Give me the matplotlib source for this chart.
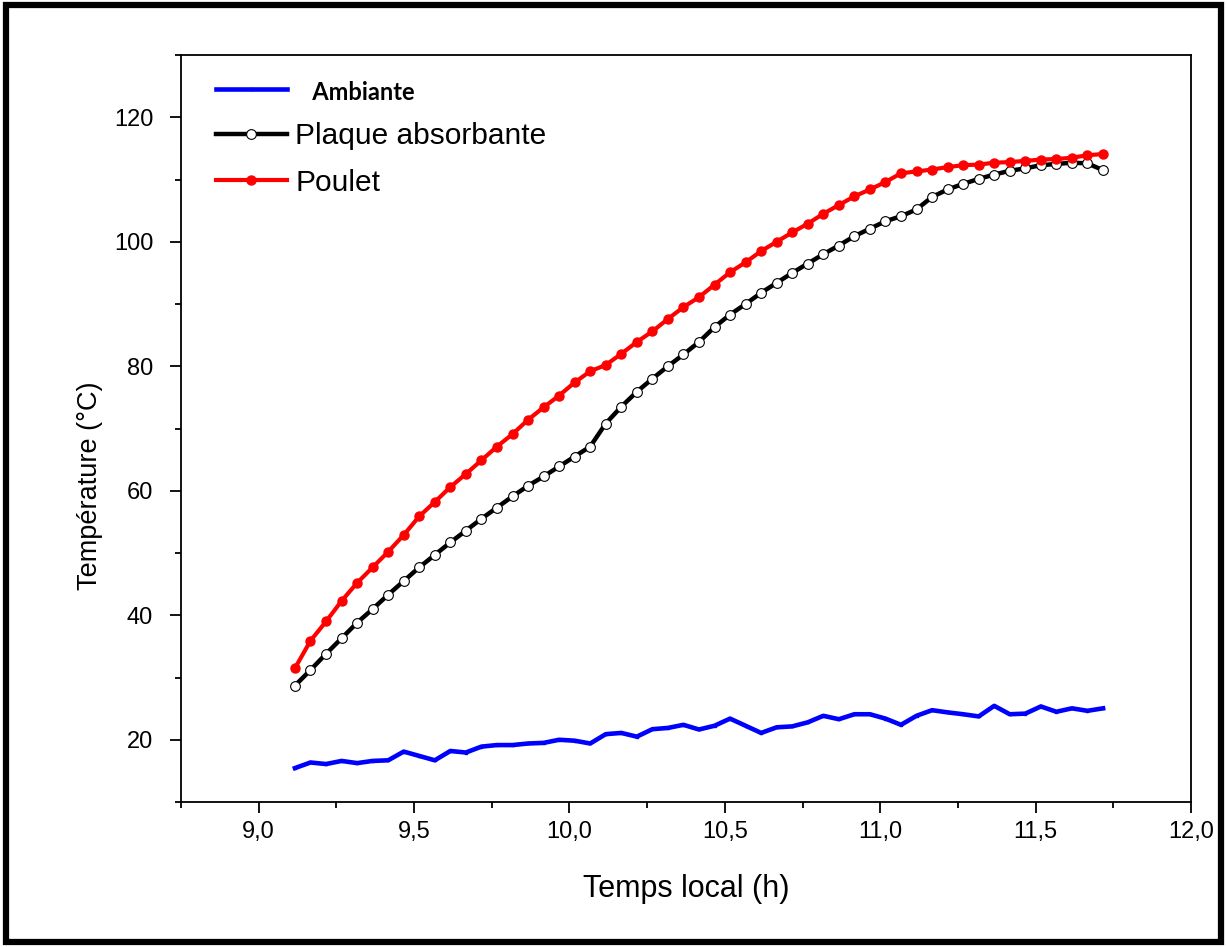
import numpy as np
import matplotlib
matplotlib.use('Agg')
import matplotlib.pyplot as plt
from matplotlib.patches import Rectangle
from matplotlib.ticker import MultipleLocator, FuncFormatter

# Local time (h), one reading every 3 minutes from 9h07
t_start = 9.1167
t_step = 0.05
n_points = 53
temps = t_start + t_step * np.arange(n_points)

ambiante = [15.45, 16.35, 16.1, 16.6, 16.25, 16.6, 16.7, 18.1, 17.4, 16.7,
            18.2, 17.95, 18.9, 19.15, 19.15, 19.4, 19.5, 20.0, 19.85, 19.4,
            20.9, 21.1, 20.5, 21.7, 21.9, 22.4, 21.65, 22.25, 23.4, 22.25,
            21.1, 22.0, 22.15, 22.8, 23.85, 23.3, 24.1, 24.1, 23.4, 22.4,
            23.85, 24.75, 24.4, 24.1, 23.75, 25.45, 24.1, 24.2, 25.35, 24.5,
            25.05, 24.65, 25.05]

plaque = [28.7, 31.2, 33.8, 36.3, 38.8, 41.0, 43.3, 45.5, 47.7, 49.7,
          51.7, 53.6, 55.5, 57.3, 59.1, 60.8, 62.3, 63.9, 65.5, 67.1,
          70.8, 73.5, 75.9, 78.0, 80.0, 81.9, 83.9, 86.3, 88.3, 90.0,
          91.8, 93.4, 95.0, 96.5, 98.0, 99.4, 100.9, 102.1, 103.3, 104.1,
          105.2, 107.2, 108.4, 109.3, 110.1, 110.8, 111.4, 111.8, 112.3, 112.5,
          112.7, 112.6, 111.5]

poulet = [31.5, 35.9, 39.0, 42.3, 45.2, 47.7, 50.2, 52.9, 55.9, 58.2,
          60.6, 62.7, 64.9, 67.1, 69.1, 71.4, 73.4, 75.3, 77.4, 79.2,
          80.2, 82.0, 83.9, 85.6, 87.6, 89.5, 91.1, 93.1, 95.1, 96.7,
          98.5, 100.0, 101.5, 102.9, 104.5, 105.9, 107.3, 108.4, 109.6, 111.0,
          111.3, 111.6, 112.0, 112.3, 112.4, 112.7, 112.8, 113.0, 113.2, 113.3,
          113.5, 113.9, 114.1]

plt.rcParams['font.family'] = ['Liberation Sans', 'DejaVu Sans']

fig = plt.figure(figsize=(12.27, 9.47), dpi=100)
ax = fig.add_axes([0.1475, 0.1531, 0.8232, 0.7888])

ax.plot(temps, ambiante, color='#0000ff', lw=3.3, marker='s', ms=2,
        label='   Ambiante', zorder=3)
ax.plot(temps, plaque, color='black', lw=3.2, marker='o', ms=7,
        mfc='white', mec='black', mew=0.8, label='Plaque absorbante', zorder=4)
ax.plot(temps, poulet, color='#ff0000', lw=3.0, marker='o', ms=6.5,
        mfc='#ff0000', mec='#ff0000', label='Poulet', zorder=5)

ax.set_xlim(8.75, 12.0)
ax.set_ylim(10, 130)
ax.xaxis.set_major_locator(MultipleLocator(0.5))
ax.xaxis.set_minor_locator(MultipleLocator(0.25))
ax.yaxis.set_major_locator(MultipleLocator(20))
ax.yaxis.set_minor_locator(MultipleLocator(10))
ax.xaxis.set_major_formatter(FuncFormatter(lambda v, p: '{0:.1f}'.format(v).replace('.', ',')))
ax.yaxis.set_major_formatter(FuncFormatter(lambda v, p: '{0:d}'.format(int(round(v)))))

ax.tick_params(which='major', direction='out', length=8, width=1.3,
               labelsize=17, pad=6)
ax.tick_params(axis='y', which='major', pad=12)
ax.tick_params(which='minor', direction='out', length=4, width=1.3)
ax.tick_params(top=False, right=False, which='both')
for s in ax.spines.values():
    s.set_linewidth(1.3)

ax.set_xlabel('Temps local (h)', fontsize=22, labelpad=22)
ax.set_ylabel('Température (°C)', fontsize=19.5)
ax.yaxis.set_label_coords(-0.077, 0.424)

leg = ax.legend(loc='upper left', bbox_to_anchor=(0.035, 0.968), frameon=False,
                fontsize=21.5, handlelength=2.35, handletextpad=0.3,
                labelspacing=0.62, borderpad=0, borderaxespad=0)
txt = leg.get_texts()[0]
txt.set_fontweight('bold')
txt.set_fontsize(17)
txt.set_fontfamily(['Lato', 'DejaVu Sans'])

# black frame around the whole picture
fig.patches.append(Rectangle((6 / 1227, 5 / 947), 1 - 12 / 1227, 1 - 10 / 947,
                             transform=fig.transFigure, fill=False,
                             edgecolor='black', linewidth=4.5))

fig.savefig('out.png', dpi=100)
